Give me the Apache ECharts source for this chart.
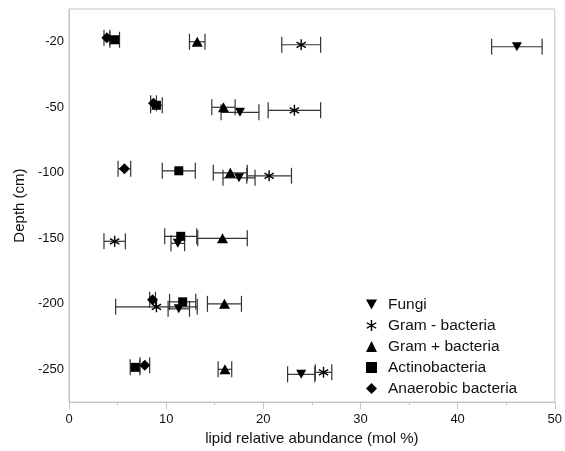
<!DOCTYPE html>
<html>
<head>
<meta charset="utf-8">
<script src="https://cdn.jsdelivr.net/npm/echarts@6/dist/echarts.min.js"></script>
<style>html,body{margin:0;padding:0;background:#fff}#c{width:565px;height:451px}</style>
</head>
<body>
<div id="c"></div>
<script>
const depths = ['-20', '-50', '-100', '-150', '-200', '-250'];
const xTicks = [0, 10, 20, 30, 40, 50];
const fungi = [46.1, 17.6, 17.5, 11.2, 11.3, 23.9];
const fungiErr = [2.6, 1.95, 1.65, 0.7, 1.1, 1.4];
const gramNeg = [23.9, 23.2, 20.6, 4.7, 9.0, 26.2];
const gramNegErr = [2.0, 2.7, 2.3, 1.1, 4.2, 0.85];
const gramPos = [13.2, 15.9, 16.6, 15.8, 16.0, 16.05];
const gramPosErr = [0.8, 1.2, 1.75, 2.55, 1.75, 0.7];
const actino = [4.7, 9.0, 11.3, 11.5, 11.7, 6.8];
const actinoErr = [0.5, 0.6, 1.7, 1.65, 1.35, 0.5];
const anaerobic = [3.9, 8.7, 5.7, null, 8.6, 7.8];
const anaerobicErr = [0.3, 0.3, 0.65, null, 0.3, 0.5];

const ASTERISK = 'path://M-0.65,-5 L0.65,-5 L0.65,5 L-0.65,5 Z M-4.655,-1.937 L-4.005,-3.063 L4.655,1.937 L4.005,3.063 Z M4.005,-3.063 L4.655,-1.937 L-4.005,3.063 L-4.655,1.937 Z';
const DOWNTRI = 'path://M0,0 L10,0 L5,9 Z';

const groups = [
  {name: 'Fungi', vals: fungi, errs: fungiErr, symbol: DOWNTRI, size: [10, 9], dy: 5},
  {name: 'Gram - bacteria', vals: gramNeg, errs: gramNegErr, symbol: ASTERISK, size: [10, 11], dy: 3},
  {name: 'Gram + bacteria', vals: gramPos, errs: gramPosErr, symbol: 'triangle', size: [11, 10], dy: 0},
  {name: 'Actinobacteria', vals: actino, errs: actinoErr, symbol: 'rect', size: [9, 9], dy: -2},
  {name: 'Anaerobic bacteria', vals: anaerobic, errs: anaerobicErr, symbol: 'diamond', size: [11, 11], dy: -4}
];

const series = [];
groups.forEach(function (g) {
  const errPts = [];
  g.vals.forEach(function (v, i) {
    if (v === null) return;
    errPts.push([v, i, g.errs[i]]);
  });
  series.push({
    type: 'custom',
    name: g.name + ' err',
    z: 1,
    silent: true,
    data: errPts,
    encode: {x: 0, y: 1},
    renderItem: function (params, api) {
      const x = api.value(0), c = api.value(1), e = api.value(2);
      const lo = api.coord([x - e, c]);
      const hi = api.coord([x + e, c]);
      const y = lo[1] + g.dy;
      const st = {stroke: '#333', lineWidth: 1.2};
      return {
        type: 'group',
        children: [
          {type: 'line', shape: {x1: lo[0], y1: y, x2: hi[0], y2: y}, style: st},
          {type: 'line', shape: {x1: lo[0], y1: y - 8, x2: lo[0], y2: y + 8}, style: st},
          {type: 'line', shape: {x1: hi[0], y1: y - 8, x2: hi[0], y2: y + 8}, style: st}
        ]
      };
    }
  });
});
groups.forEach(function (g) {
  const pts = [];
  g.vals.forEach(function (v, i) { if (v !== null) pts.push([v, i]); });
  series.push({
    type: 'scatter',
    name: g.name,
    z: 3,
    symbol: g.symbol,
    symbolSize: g.size,
    symbolOffset: [0, g.dy],
    itemStyle: {color: '#000', opacity: 1},
    data: pts
  });
});

const chart = echarts.init(document.getElementById('c'), null, {renderer: 'canvas'});
chart.setOption({
  animation: false,
  textStyle: {fontFamily: 'Liberation Sans, Arial, sans-serif'},
  grid: {left: 69, right: 8, top: 9, bottom: 48, show: true, borderColor: '#c4c4c4', borderWidth: 1},
  legend: {
    data: groups.map(function (g) { return g.name; }),
    orient: 'vertical',
    left: 361,
    top: 291,
    itemWidth: 11,
    itemHeight: 11,
    itemGap: 4,
    textStyle: {fontSize: 15.5, color: '#111', fontFamily: 'Liberation Sans, Arial, sans-serif', padding: [0, 0, 0, 6], lineHeight: 17}
  },
  xAxis: {
    type: 'value',
    min: xTicks[0],
    max: xTicks[xTicks.length - 1],
    interval: 10,
    name: 'lipid relative abundance (mol %)',
    nameLocation: 'middle',
    nameGap: 26,
    nameTextStyle: {fontSize: 15, color: '#111'},
    axisLine: {show: true, lineStyle: {color: '#c4c4c4'}},
    axisTick: {show: true, length: 7, lineStyle: {color: '#c4c4c4'}},
    minorTick: {show: true, splitNumber: 2, length: 3, lineStyle: {color: '#c4c4c4'}},
    splitLine: {show: false},
    axisLabel: {fontSize: 13, color: '#111', margin: 11}
  },
  yAxis: {
    type: 'category',
    data: depths,
    inverse: true,
    boundaryGap: true,
    name: 'Depth (cm)',
    nameLocation: 'middle',
    nameGap: 42,
    nameTextStyle: {fontSize: 15, color: '#111'},
    axisLine: {show: true, lineStyle: {color: '#c4c4c4'}},
    axisTick: {show: false},
    splitLine: {show: false},
    axisLabel: {fontSize: 13, color: '#111', margin: 5}
  },
  series: series
});
</script>
</body>
</html>
